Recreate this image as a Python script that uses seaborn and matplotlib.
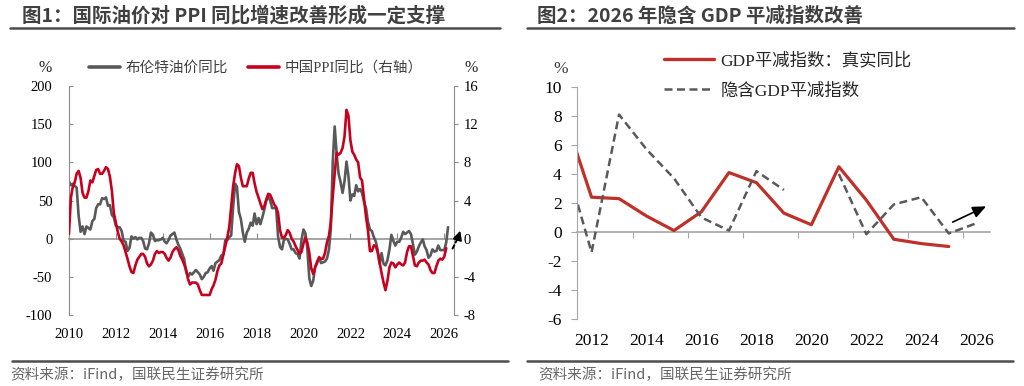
import numpy as np
import pandas as pd
import matplotlib
matplotlib.use('Agg')
import matplotlib.pyplot as plt
import matplotlib.dates as mdates
from matplotlib.lines import Line2D
import seaborn as sns


# ---------------- data ----------------
# figure 1: monthly YoY, Dec 2009 .. Feb 2026 (Brent) / Jan 2026 (PPI)
brent_yoy = [75,                                                   # 2009-12
    70, 72, 69, 67, 30, 9, 16, 6, 16, 14, 12, 23,                  # 2010
    26, 40, 45, 45, 53, 52, 54, 43, 44, 31, 28, 17,                # 2011
    15, 15, 10, -3, -4, -16, -12, 3, 0, 2, -1, 1,                  # 2012
    1, -3, -13, -14, -6, 8, 5, -3, -2, -2, -1, 1,                  # 2013
    -4, -6, -2, 4, 6, 8, -1, -8, -13, -20, -27, -44,               # 2014
    -50, -45, -47, -44, -41, -44, -47, -53, -50, -45, -44, -39,    # 2015
    -36, -42, -32, -30, -28, -22, -21, -2, -2, 2, 4, 42,           # 2016
    72, 68, 35, 26, 8, -4, 8, 13, 21, 17, 33, 19,                  # 2017
    27, 19, 28, 38, 50, 55, 50, 40, 40, 41, 3, -11,                # 2018
    -14, -2, 0, -1, -7, -14, -14, -19, -20, -26, -2, 12,           # 2019
    7, -13, -52, -62, -55, -37, -32, -24, -32, -31, -30, -26,      # 2020
    -14, 12, 100, 147, 111, 85, 74, 60, 75, 101, 82, 50,           # 2021
    58, 56, 70, 62, 65, 60, 48, 40, 22, 12, 10, 2,                 # 2022
    -4, -15, -33, -19, -33, -35, -28, -14, 5, -3, -9, -4,          # 2023
    -4, 1, 9, 6, 8, 10, 6, -7, -21, -17, -10, -5,                  # 2024
    -1, -10, -15, -25, -22, -14, -17, -16, -9, -15, -15, -15,      # 2025
    -5, 15]                                                        # 2026

ppi_yoy = [0.5,                                                            # 2009-12
    4.3, 5.4, 5.9, 6.8, 7.1, 6.4, 4.8, 4.3, 4.3, 5.0, 6.1, 5.9,            # 2010
    6.6, 7.2, 7.3, 6.8, 6.8, 7.1, 7.5, 7.3, 6.5, 5.0, 2.7, 1.7,            # 2011
    0.7, 0.0, -0.3, -0.7, -1.4, -2.1, -2.9, -3.5, -3.6, -2.8, -2.2, -1.9,  # 2012
    -1.6, -1.6, -1.9, -2.6, -2.9, -2.7, -2.3, -1.6, -1.3, -1.5, -1.4, -1.4,  # 2013
    -1.6, -2.0, -2.3, -2.0, -1.4, -1.1, -0.9, -1.2, -1.8, -2.2, -2.7, -3.3,  # 2014
    -4.3, -4.8, -4.6, -4.6, -4.6, -4.8, -5.4, -5.9, -5.9, -5.9, -5.9, -5.9,  # 2015
    -5.3, -4.9, -4.3, -3.4, -2.8, -2.6, -1.7, -0.8, 0.1, 1.2, 3.3, 5.5,    # 2016
    6.9, 7.8, 7.6, 6.4, 5.5, 5.5, 5.5, 6.3, 6.9, 6.9, 5.8, 4.9,            # 2017
    4.3, 3.7, 3.1, 3.4, 4.1, 4.7, 4.6, 4.1, 3.6, 3.3, 2.7, 0.9,            # 2018
    0.1, 0.1, 0.4, 0.9, 0.6, 0.0, -0.3, -0.8, -1.2, -1.6, -1.4, -0.5,      # 2019
    0.1, -0.4, -1.5, -3.1, -3.7, -3.0, -2.4, -2.0, -2.1, -2.1, -1.5, -0.4,  # 2020
    0.3, 1.7, 4.4, 6.8, 9.0, 8.8, 9.0, 9.5, 10.7, 13.5, 12.9, 10.3,        # 2021
    9.1, 8.8, 8.3, 8.0, 6.4, 6.1, 4.2, 2.3, 0.9, -1.3, -1.3, -0.7,         # 2022
    -0.8, -1.4, -2.5, -3.6, -4.6, -5.4, -4.4, -3.0, -2.5, -2.6, -3.0, -2.7,  # 2023
    -2.5, -2.7, -2.8, -2.5, -1.4, -0.8, -0.8, -1.8, -2.8, -2.9, -2.5, -2.3,  # 2024
    -2.3, -2.2, -2.5, -2.7, -3.3, -3.6, -3.6, -2.9, -2.3, -2.1, -2.2, -1.9,  # 2025
    -1.0]                                                                  # 2026

# figure 2: annual GDP deflator
years = [2011, 2012, 2013, 2014, 2015, 2016, 2017, 2018, 2019, 2020,
         2021, 2022, 2023, 2024, 2025, 2026]
deflator_real = [8.1, 2.4, 2.3, 1.1, 0.1, 1.4, 4.1, 3.4, 1.3, 0.5,
                 4.5, 2.2, -0.5, -0.8, -1.0, np.nan]
deflator_implied = [5.2, -1.4, 8.1, 5.7, 3.7, 1.0, 0.1, 4.2, 2.9, np.nan,
                    4.0, -0.15, 1.9, 2.4, -0.1, 0.6]

title1 = '图1：国际油价对 PPI 同比增速改善形成一定支撑'
title2 = '图2：2026 年隐含 GDP 平减指数改善'
source = '资料来源：iFind，国联民生证券研究所'

brent = pd.DataFrame({'date': pd.date_range('2009-12-31', periods=len(brent_yoy), freq='ME'),
                      'v': brent_yoy})
ppi = pd.DataFrame({'date': pd.date_range('2009-12-31', periods=len(ppi_yoy), freq='ME'),
                    'v': ppi_yoy})
gdp = pd.DataFrame({'year': years, 'real': deflator_real, 'implied': deflator_implied})
gdp['seg'] = (gdp['year'] > 2020).astype(int)

# ---------------- style ----------------
sns.set_style('ticks')
SERIF = 'Liberation Serif'
MIXED = ['Liberation Serif', 'Noto Sans CJK SC']
plt.rcParams['font.family'] = MIXED
plt.rcParams['axes.unicode_minus'] = False

GRAY = '#595959'
RED1 = '#C8001E'
RED2 = '#C0302A'
AXC = '#8C8C8C'
W, H = 1024, 386

fig = plt.figure(figsize=(10.24, 3.86), dpi=100)


def fx(px):
    return px / W


def fy(py):
    return 1 - py / H


# ---------------- chart 1 ----------------
ax1 = fig.add_axes([fx(69), fy(315), fx(454 - 69), (315 - 86) / H])
sns.lineplot(data=brent, x='date', y='v', ax=ax1, color=GRAY, lw=1.9)
ax1r = ax1.twinx()
sns.lineplot(data=ppi, x='date', y='v', ax=ax1r, color=RED1, lw=1.9)

ax1.set_xlim(pd.Timestamp('2010-01-01'), pd.Timestamp('2026-06-01'))
ax1.set_ylim(-100, 200)
ax1r.set_ylim(-8, 16)
ax1.set_yticks(range(-100, 201, 50))
ax1r.set_yticks(range(-8, 17, 4))
for a in (ax1, ax1r):
    a.set_xlabel('')
    a.set_ylabel('')
    for s in ('top', 'bottom'):
        a.spines[s].set_visible(False)
ax1.spines['right'].set_visible(False)
ax1r.spines['left'].set_visible(False)
ax1.spines['left'].set_color(AXC)
ax1r.spines['right'].set_color(AXC)

xt1 = pd.to_datetime([f'{y}-01-01' for y in range(2010, 2027, 2)])
ax1.set_xticks(xt1)
ax1.xaxis.set_major_formatter(mdates.DateFormatter('%Y'))
ax1.tick_params(axis='x', length=0, pad=9, labelsize=10.5, colors='black',
                labelfontfamily=SERIF)
ax1.tick_params(axis='y', direction='in', length=3, pad=12, labelsize=10.5,
                color=AXC, labelcolor='black', labelfontfamily=SERIF)
ax1r.tick_params(axis='y', direction='out', length=3, pad=4, labelsize=10.5,
                 color=AXC, labelcolor='black', labelfontfamily=SERIF)

zero1 = ax1.secondary_xaxis(1 / 3)
zero1.set_xticks(mdates.date2num(xt1))
zero1.tick_params(axis='x', direction='in', length=4, color=AXC,
                  labelbottom=False, labeltop=False)
zero1.spines['bottom'].set_color(AXC)
zero1.spines['bottom'].set_linewidth(1.1)

# small arrow at the end of the PPI line: dashed shaft + solid head
ax1r.annotate('', xy=(pd.Timestamp('2026-08-10'), 0.2),
              xytext=(pd.Timestamp('2026-04-20'), -1.3),
              arrowprops=dict(arrowstyle='-', color='black', lw=1.4,
                              linestyle=(0, (2, 1.5))),
              annotation_clip=False)
ax1r.annotate('', xy=(pd.Timestamp('2026-09-20'), 1.1),
              xytext=(pd.Timestamp('2026-07-20'), -0.2),
              arrowprops=dict(arrowstyle='-|>,head_length=0.55,head_width=0.28',
                              color='black', lw=1.2),
              annotation_clip=False)

fig.text(fx(45), fy(68), '%', fontsize=11.5, ha='center', va='center', family=SERIF)
fig.text(fx(471), fy(68), '%', fontsize=11.5, ha='center', va='center', family=SERIF)

h1 = [Line2D([], [], color=GRAY, lw=2.6), Line2D([], [], color=RED1, lw=2.6)]
fig.legend(h1, ['布伦特油价同比', '中国PPI同比（右轴）'], loc='center left',
           bbox_to_anchor=(fx(89), fy(68)), ncol=2, frameon=False,
           prop={'family': MIXED, 'size': 10.5},
           handlelength=2.1, handletextpad=0.4, columnspacing=1.4,
           borderpad=0, borderaxespad=0, labelcolor='#404040')

# ---------------- chart 2 ----------------
ax2 = fig.add_axes([fx(577), fy(319), fx(990 - 577), (319 - 87) / H])
sns.lineplot(data=gdp, x='year', y='real', ax=ax2, color=RED2, lw=2.3)
sns.lineplot(data=gdp, x='year', y='implied', units='seg', estimator=None, ax=ax2,
             color=GRAY, lw=1.8, linestyle=(0, (3.2, 1.8)))

ax2.set_xlim(2011.47, 2026.5)
ax2.set_ylim(-6, 10)
ax2.set_yticks(range(-6, 11, 2))
ax2.set_xticks(range(2012, 2027, 2))
ax2.set_xlabel('')
ax2.set_ylabel('')
for s in ('top', 'right', 'bottom'):
    ax2.spines[s].set_visible(False)
ax2.spines['left'].set_color('#A6A6A6')
ax2.tick_params(axis='x', length=0, pad=10, labelsize=12.5, labelcolor='black',
                labelfontfamily=SERIF)
ax2.tick_params(axis='y', direction='out', length=4, pad=7, labelsize=12.5,
                color='#A6A6A6', labelcolor='black', labelfontfamily=SERIF)

zero2 = ax2.secondary_xaxis(6 / 16)
zero2.set_xticks(np.arange(2013.5, 2026, 2))
zero2.tick_params(axis='x', direction='out', length=4, color='#A6A6A6',
                  labelbottom=False, labeltop=False)
zero2.spines['bottom'].set_color('#A6A6A6')
zero2.spines['bottom'].set_linewidth(1.2)

ax2.annotate('', xy=(2026.45, 1.85), xytext=(2025.05, 0.6),
             arrowprops=dict(arrowstyle='-|>,head_length=0.8,head_width=0.35',
                             color='black', lw=1.2),
             annotation_clip=False)

fig.text(fx(561), fy(69), '%', fontsize=12.5, ha='center', va='center',
         color='#404040', family=SERIF)

h2 = [Line2D([], [], color=RED2, lw=2.4),
      Line2D([], [], color=GRAY, lw=1.8, linestyle=(0, (3.2, 1.8)))]
fig.legend(h2, ['GDP平减指数：真实同比', '隐含GDP平减指数'], loc='center left',
           bbox_to_anchor=(fx(664), fy(76)), ncol=1, frameon=False,
           prop={'family': MIXED, 'size': 12.5},
           handlelength=2.9, handletextpad=0.35, labelspacing=0.8,
           borderpad=0, borderaxespad=0, labelcolor='#262626')

# ---------------- titles, rules, source ----------------
for x0, t in ((22, title1), (537, title2)):
    fig.text(fx(x0), fy(16), t, fontsize=14, fontweight='bold', color='#404040',
             va='center', family=['Noto Sans CJK SC'])
for x0, x1 in ((10, 500), (527, 1014)):
    fig.add_artist(Line2D([fx(x0), fx(x1)], [fy(28)] * 2, color='#4D4D4D', lw=1.8))
for x0, x1 in ((12, 508), (527, 1013)):
    fig.add_artist(Line2D([fx(x0), fx(x1)], [fy(361)] * 2, color='#4D4D4D', lw=1.8))
for x0 in (10, 538):
    fig.text(fx(x0), fy(375), source, fontsize=10.5, color='#666666', va='center',
             family=['Noto Sans CJK SC'])

fig.savefig('out.png', dpi=100)
